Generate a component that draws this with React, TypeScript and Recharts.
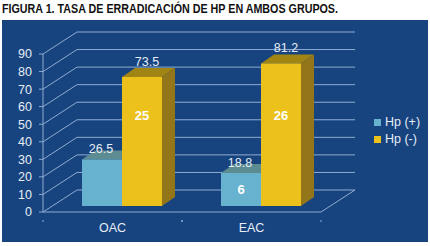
import React from "react";
import { BarChart, Bar, XAxis, YAxis, CartesianGrid, Legend, LabelList } from "recharts";

const categories = ["OAC", "EAC"];
const hpPositive = [26.5, 18.8];
const hpNegative = [73.5, 81.2];
const hpPositiveCount = [null, 6];
const hpNegativeCount = [25, 26];
const yTicks = [0, 10, 20, 30, 40, 50, 60, 70, 80, 90];

const data = categories.map((name, i) => ({
  name,
  pos: hpPositive[i],
  neg: hpNegative[i],
}));

const GRID = "#8fadd2";
const TEXT = "#e6edf5";
const FONT = "'Liberation Sans', Arial, sans-serif";

// depth of the floor and of the bars, fake 3d
const FLOOR_DX = 34;
const FLOOR_DY = -22;
const BAR_DX = 9;
const BAR_DY = -6;
const BAR_DEPTH_X = 13;
const BAR_DEPTH_Y = -9;
const BAND = 139;

function gridLine(props: any) {
  const { x1, x2, y1, key } = props;
  const bx = x1 + FLOOR_DX;
  const by = y1 + FLOOR_DY;
  const floor = Math.abs(y1 - 212) < 1;
  return (
    <g key={key}>
      <line x1={x1} y1={y1} x2={bx} y2={by} stroke={GRID} strokeWidth={1} />
      <line x1={bx} y1={by} x2={x2 + FLOOR_DX} y2={by} stroke={GRID} strokeWidth={1} />
      {floor && <line x1={x2} y1={y1} x2={x2 + FLOOR_DX} y2={by} stroke={GRID} strokeWidth={1} />}
    </g>
  );
}

function bar3d(front: string, top: string, side: string) {
  return function Shape(props: any) {
    const { x, y, width, height } = props;
    const l = x + BAR_DX;
    const t = y + BAR_DY;
    const r = l + width;
    const b = t + height;
    const dx = BAR_DEPTH_X;
    const dy = BAR_DEPTH_Y;
    return (
      <g>
        <path d={`M${l},${t} L${l + dx},${t + dy} L${r + dx},${t + dy} L${r},${t} Z`} fill={top} />
        <path d={`M${r},${t} L${r + dx},${t + dy} L${r + dx},${b + dy} L${r},${b} Z`} fill={side} />
        <rect x={l} y={t} width={width} height={height} fill={front} />
      </g>
    );
  };
}

function topLabel(offsetX: number, offsetY: number) {
  return function Label(props: any) {
    const { x, y, width, value } = props;
    return (
      <text x={x + width / 2 + BAR_DX + offsetX} y={y + BAR_DY + offsetY} fill={TEXT} fontSize={12.5} fontFamily={FONT} textAnchor="middle" dominantBaseline="central">
        {value}
      </text>
    );
  };
}

function posCountLabel(props: any) {
  const { x, y, width, height, index } = props;
  const v = hpPositiveCount[index];
  if (v == null) return null;
  return (
    <text x={x + width / 2 + BAR_DX} y={y + BAR_DY + height / 2} fill="#ffffff" fontSize={13} fontWeight="bold" fontFamily={FONT} textAnchor="middle" dominantBaseline="central">
      {v}
    </text>
  );
}

function negCountLabel(props: any) {
  const { x, width, index } = props;
  return (
    <text x={x + width / 2 + BAR_DX} y={115} fill="#ffffff" fontSize={13} fontWeight="bold" fontFamily={FONT} textAnchor="middle" dominantBaseline="central">
      {hpNegativeCount[index]}
    </text>
  );
}

function categoryTick(props: any) {
  const { x, y, payload } = props;
  return (
    <g>
      <line x1={x - BAND / 2} y1={y} x2={x - BAND / 2} y2={y + 2} stroke={GRID} />
      <line x1={x + BAND / 2} y1={y} x2={x + BAND / 2} y2={y + 2} stroke={GRID} />
      <text x={x} y={228} fill={TEXT} fontSize={12.5} fontFamily={FONT} textAnchor="middle" dominantBaseline="central">
        {payload.value}
      </text>
    </g>
  );
}

function legendContent(props: any) {
  return (
    <div>
      {props.payload.map((item: any) => (
        <div key={item.value} style={{ position: "relative", height: 17, lineHeight: "17px", paddingLeft: 13, whiteSpace: "nowrap" }}>
          <span style={{ position: "absolute", left: 2, top: 5, width: 7, height: 7, background: item.color }} />
          {item.value}
        </div>
      ))}
    </div>
  );
}

export default function App() {
  return (
    <div style={{ position: "absolute", left: 0, top: 0, width: 430, height: 246, background: "#ffffff" }}>
      <svg width={430} height={20} style={{ position: "absolute", left: 0, top: 0 }}>
        <text x={2} y={13} textLength={336} lengthAdjust="spacingAndGlyphs" fill="#111111" fontSize={13.5} fontWeight="bold" fontFamily={FONT}>
          FIGURA 1. TASA DE ERRADICACIÓN DE HP EN AMBOS GRUPOS.
        </text>
      </svg>
      <div style={{ position: "absolute", left: 2, top: 20, width: 426, height: 222, background: "#17437f" }} />
      <div style={{ position: "absolute", left: 0, top: 0 }}>
        <BarChart width={430} height={246} data={data} margin={{ top: 54, right: 109, bottom: 0, left: 0 }} barGap={0} barSize={40}>
          <CartesianGrid vertical={false} horizontal={gridLine} />
          <XAxis
            dataKey="name"
            height={34}
            axisLine={{ stroke: GRID }}
            tickLine={false}
            tick={categoryTick}
            interval={0}
          />
          <YAxis
            width={43}
            domain={[0, 90]}
            ticks={yTicks}
            interval={0}
            axisLine={{ stroke: GRID }}
            tickLine={{ stroke: GRID }}
            tickSize={4}
            tickMargin={7}
            tick={{ fill: TEXT, fontSize: 12.5, fontFamily: FONT }}
          />
          <Legend
            layout="vertical"
            align="center"
            verticalAlign="middle"
            content={legendContent}
            wrapperStyle={{ left: 372, top: 114, width: 58, fontFamily: FONT, fontSize: 12.5, color: TEXT }}
          />
          <Bar dataKey="pos" name="Hp (+)" fill="#67b3cf" isAnimationActive={false} shape={bar3d("#67b3cf", "#5c8c92", "#4a8599")}>
            <LabelList dataKey="pos" content={topLabel(-1, -10)} />
            <LabelList dataKey="pos" content={posCountLabel} />
          </Bar>
          <Bar dataKey="neg" name="Hp (-)" fill="#ecc11c" isAnimationActive={false} shape={bar3d("#ecc11c", "#a08414", "#93761a")}>
            <LabelList dataKey="neg" content={topLabel(5, -15)} />
            <LabelList dataKey="neg" content={negCountLabel} />
          </Bar>
        </BarChart>
      </div>
    </div>
  );
}
